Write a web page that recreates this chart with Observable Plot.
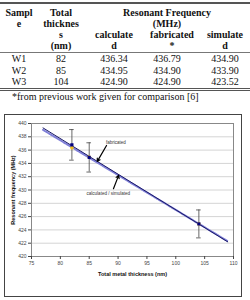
<!DOCTYPE html>
<html><head><meta charset="utf-8">
<script src="https://cdn.jsdelivr.net/npm/d3@7"></script>
<script src="https://cdn.jsdelivr.net/npm/@observablehq/plot@0.6"></script>
<style>
html,body{margin:0;padding:0;background:#fff;width:250px;height:300px;overflow:hidden;}
#tbl{position:absolute;left:0;top:2px;width:250px;border-collapse:collapse;table-layout:fixed;
 font-family:"Liberation Serif","Times New Roman","DejaVu Serif",serif;font-size:10px;line-height:11px;color:#111;
 border-top:2px solid #555;border-bottom:3px double #555;}
#tbl th{font-weight:bold;padding:0;vertical-align:top;text-align:center;}
#tbl td{padding:0;text-align:center;height:11.5px;line-height:11.5px;}
#tbl tr.h1 th{padding-top:2.5px;}
#tbl tr.h2 th{padding-bottom:1.5px;}
#tbl th.rs{padding-bottom:1.5px;}
#tbl tr.h2 th, #tbl th.rs{border-bottom:1px solid #777;}
#cap{position:absolute;left:12px;top:91px;font-family:"Liberation Serif","Times New Roman","DejaVu Serif",serif;font-size:10px;line-height:12px;color:#111;white-space:nowrap;}
#box{position:absolute;left:4px;top:114px;width:238px;height:183px;border:1px solid #444;box-sizing:border-box;}
#box svg{position:absolute;left:0;top:0;}
</style></head>
<body>
<table id="tbl">
<colgroup><col style="width:38px"><col style="width:46px"><col style="width:60px"><col style="width:56px"><col style="width:50px"></colgroup>
<thead>
<tr class="h1"><th rowspan="2" class="rs">Sampl<br>e</th><th rowspan="2" class="rs">Total<br>thicknes<br>s<br>(nm)</th><th colspan="3">Resonant Frequency<br>(MHz)</th></tr>
<tr class="h2"><th>calculate<br>d</th><th>fabricated<br>*</th><th>simulate<br>d</th></tr>
</thead>
<tbody id="tb"></tbody>
</table>
<div id="cap">*from previous work given for comparison [6]</div>
<div id="box"></div>
<script>
const samples = ["W1", "W2", "W3"];
const thickness = [82, 85, 104];
const calculated = [436.34, 434.95, 424.90];
const fabricated = [436.79, 434.90, 424.90];
const simulated = [434.90, 433.90, 423.52];
const fabError = [2.3, 2.2, 2.1];
const trendRange = [77, 109];
const xTicks = [75, 80, 85, 90, 95, 100, 105, 110];
const yTicks = [420, 422, 424, 426, 428, 430, 432, 434, 436, 438, 440];
const annotations = [
  {label: "fabricated", tx: 89.6, ty: 437.2, x1: 88.0, y1: 436.7, x2: 86.4, y2: 434.3},
  {label: "calculated / simulated", tx: 88.3, ty: 429.5, x1: 89.2, y1: 430.2, x2: 90.1, y2: 432.2}
];

// table body
const tb = document.getElementById("tb");
samples.forEach((s, i) => {
  const tr = document.createElement("tr");
  [s, String(thickness[i]), calculated[i].toFixed(2), fabricated[i].toFixed(2), simulated[i].toFixed(2)].forEach((v, j) => {
    const td = document.createElement("td");
    td.textContent = v;
    if (j === 3) td.style.paddingRight = "10px";
    tr.appendChild(td);
  });
  tb.appendChild(tr);
});

function fit(xs, ys) {
  const mx = d3.mean(xs), my = d3.mean(ys);
  let sxy = 0, sxx = 0;
  xs.forEach((x, i) => { sxy += (x - mx) * (ys[i] - my); sxx += (x - mx) ** 2; });
  const b = sxy / sxx;
  return x => my + b * (x - mx);
}
const fFab = fit(thickness, fabricated);
const fCalc = fit(thickness, calculated);
const trendFab = trendRange.map(x => ({x, y: fFab(x)}));
const trendCalc = trendRange.map(x => ({x, y: fCalc(x)}));
const pts = thickness.map((x, i) => ({x, fab: fabricated[i], calc: calculated[i], err: fabError[i]}));

const chart = Plot.plot({
  width: 236, height: 181,
  marginLeft: 26, marginRight: 8, marginTop: 8, marginBottom: 40,
  style: {fontFamily: "Arial, 'Liberation Sans', sans-serif", fontSize: "5px", color: "#444", background: "transparent"},
  x: {domain: [75, 110]},
  y: {domain: [420, 440]},
  marks: [
    Plot.ruleY(yTicks.slice(1), {stroke: "#d4d4d4", strokeWidth: 1}),
    Plot.frame({stroke: "#888"}),
    Plot.line(trendCalc, {x: "x", y: "y", stroke: "#8080d8", strokeWidth: 2, strokeDasharray: "2,1"}),
    Plot.line(trendFab, {x: "x", y: "y", stroke: "#1a1a66", strokeWidth: 1}),
    Plot.ruleX(pts, {x: "x", y1: d => d.fab - d.err, y2: d => d.fab + d.err, stroke: "#444", strokeWidth: 0.8}),
    Plot.ruleY(pts, {y: d => d.fab - d.err, x1: d => d.x - 0.4, x2: d => d.x + 0.4, stroke: "#444", strokeWidth: 0.8}),
    Plot.ruleY(pts, {y: d => d.fab + d.err, x1: d => d.x - 0.4, x2: d => d.x + 0.4, stroke: "#444", strokeWidth: 0.8}),
    Plot.dot(pts, {x: "x", y: "calc", r: 1.8, fill: "#f0c020", stroke: "none"}),
    Plot.dot(pts, {x: "x", y: "fab", r: 1.8, fill: "#000080", stroke: "none", symbol: "square"}),
    Plot.arrow(annotations, {x1: "x1", y1: "y1", x2: "x2", y2: "y2", stroke: "#000", strokeWidth: 1.2, headLength: 4}),
    Plot.text(annotations, {x: "tx", y: "ty", text: "label", fontSize: 4.5, fill: "#333"}),
    Plot.axisX({ticks: xTicks, tickSize: 3, tickPadding: 2, label: "Total metal thickness (nm)", labelAnchor: "center", labelOffset: 19, labelArrow: "none"}),
    Plot.axisY({ticks: yTicks, tickSize: 3, tickPadding: 2, label: "Resonant frequency (MHz)", labelAnchor: "center", labelOffset: 20, labelArrow: "none"})
  ]
});
chart.querySelectorAll("[aria-label$='axis label'] text, [aria-label$='axis label']").forEach(n => {
  n.setAttribute("font-weight", "bold"); n.setAttribute("font-size", "5.5"); n.setAttribute("fill", "#111");
});
document.getElementById("box").appendChild(chart);
</script>
</body></html>
